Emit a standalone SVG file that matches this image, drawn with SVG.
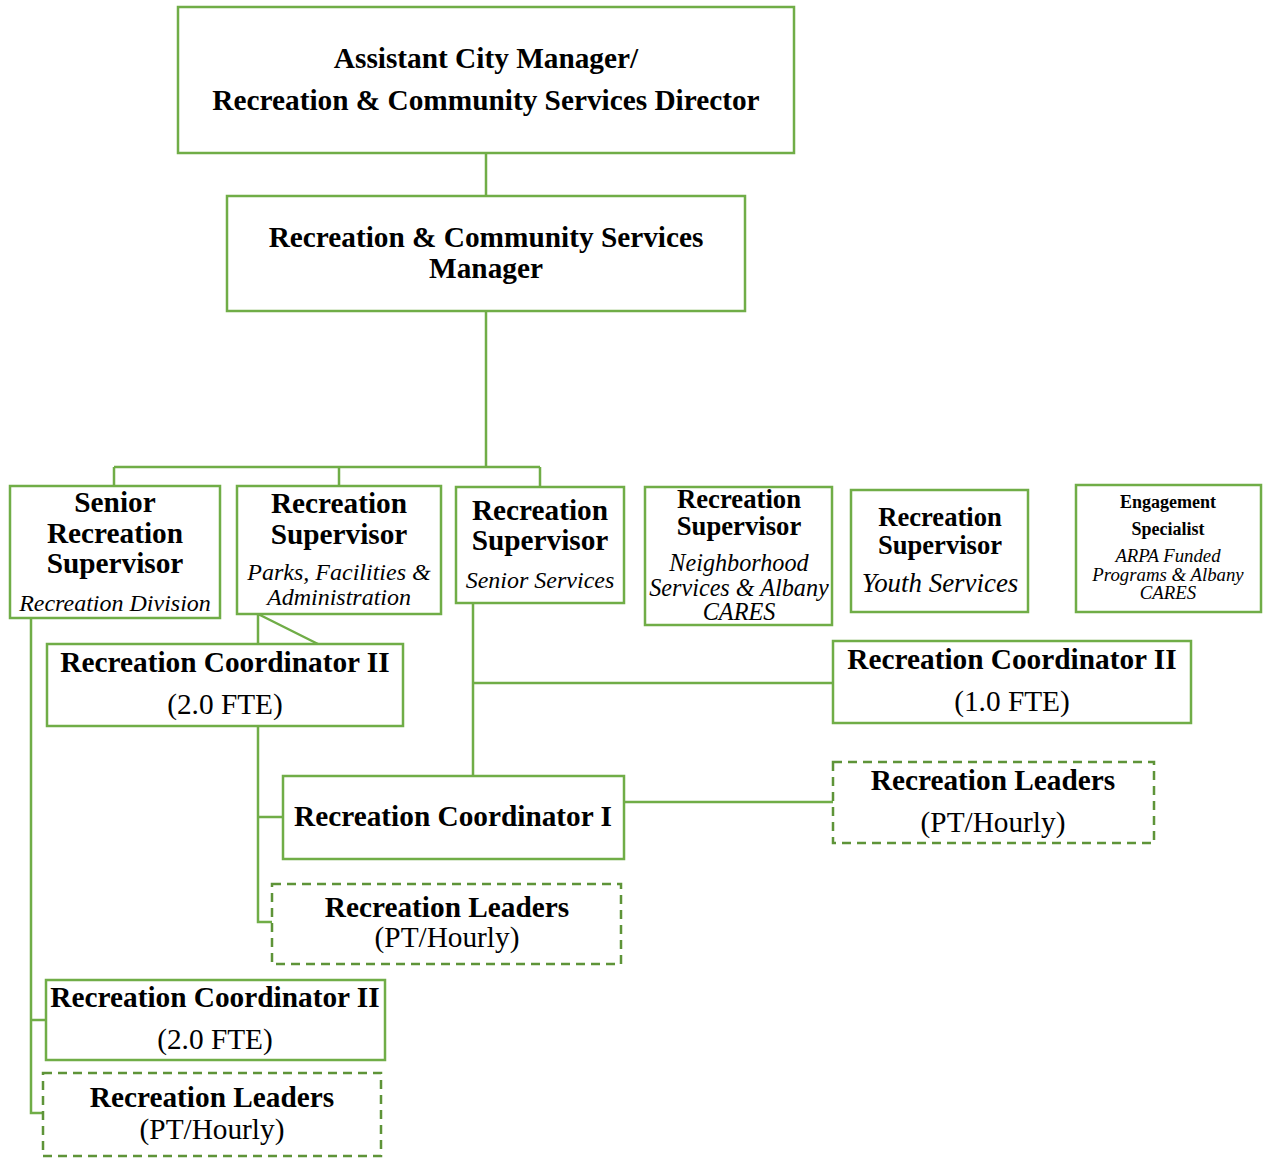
<svg xmlns="http://www.w3.org/2000/svg" width="1268" height="1162" viewBox="0 0 1268 1162">
<style>
.box{fill:#fff;stroke:#70AD47;stroke-width:2.5}
.dash{fill:#fff;stroke:#5E9438;stroke-width:2.5;stroke-dasharray:9 6}
.ln{fill:none;stroke:#70AD47;stroke-width:2.5}
text{font-family:"Liberation Serif","Times New Roman",serif;fill:#000;text-anchor:middle}
.b{font-weight:bold}
.i{font-style:italic}
.L{font-size:29.3px}
.S{font-size:24px}
</style>
<rect width="1268" height="1162" fill="#fff"/>
<g id="connectors">
<path class="ln" d="M486 153V196M486 311V467M114 467H540M114 467V486M339 467V486M540 467V487"/>
<path class="ln" d="M258 614V922H272M258 817H283M258 614L318 644"/>
<path class="ln" d="M473 603V776M473 683H833M624 802H833"/>
<path class="ln" d="M31 618V1113H43M31 1020H46"/>
</g>
<g id="n-director"><rect class="box" x="178" y="7" width="616" height="146"/>
<text class="b L" x="486" y="68">Assistant City Manager/</text>
<text class="b L" x="486" y="110">Recreation &amp; Community Services Director</text></g>
<g id="n-manager"><rect class="box" x="227" y="196" width="518" height="115"/>
<text class="b L" x="486" y="247">Recreation &amp; Community Services</text>
<text class="b L" x="486" y="278">Manager</text></g>
<g id="n-senior-sup"><rect class="box" x="10" y="486" width="210" height="132"/>
<text class="b L" x="115" y="512">Senior</text>
<text class="b L" x="115" y="543">Recreation</text>
<text class="b L" x="115" y="573">Supervisor</text>
<text class="i S" x="115" y="611">Recreation Division</text></g>
<g id="n-parks-sup"><rect class="box" x="237" y="486" width="204" height="128"/>
<text class="b L" x="339" y="513">Recreation</text>
<text class="b L" x="339" y="544">Supervisor</text>
<text class="i S" x="339" y="580">Parks, Facilities &amp;</text>
<text class="i S" x="339" y="605">Administration</text></g>
<g id="n-senior-svc-sup"><rect class="box" x="456" y="487" width="168" height="116"/>
<text class="b L" x="540" y="520">Recreation</text>
<text class="b L" x="540" y="550">Supervisor</text>
<text class="i S" x="540" y="588">Senior Services</text></g>
<g id="n-neighborhood-sup"><rect class="box" x="645" y="487" width="187" height="138"/>
<text class="b" x="739" y="508" font-size="26.7">Recreation</text>
<text class="b" x="739" y="535" font-size="26.7">Supervisor</text>
<text class="i" x="739" y="571" font-size="24.2">Neighborhood</text>
<text class="i" x="739" y="596" font-size="24.2">Services &amp; Albany</text>
<text class="i" x="739" y="620" font-size="24.2">CARES</text></g>
<g id="n-youth-sup"><rect class="box" x="851" y="490" width="177" height="122"/>
<text class="b" x="940" y="526" font-size="26.6">Recreation</text>
<text class="b" x="940" y="554" font-size="26.6">Supervisor</text>
<text class="i" x="940" y="592" font-size="26.9">Youth Services</text></g>
<g id="n-engagement"><rect class="box" x="1076" y="485" width="185" height="127"/>
<text class="b" x="1168" y="508" font-size="18">Engagement</text>
<text class="b" x="1168" y="535" font-size="18">Specialist</text>
<text class="i" x="1168" y="562" font-size="18.8">ARPA Funded</text>
<text class="i" x="1168" y="581" font-size="18.8">Programs &amp; Albany</text>
<text class="i" x="1168" y="599" font-size="18.8">CARES</text></g>
<g id="n-coord2-parks"><rect class="box" x="47" y="644" width="356" height="82"/>
<text class="b L" x="225" y="672">Recreation Coordinator II</text>
<text class="L" x="225" y="714">(2.0 FTE)</text></g>
<g id="n-coord2-senior-svc"><rect class="box" x="833" y="641" width="358" height="82"/>
<text class="b L" x="1012" y="669">Recreation Coordinator II</text>
<text class="L" x="1012" y="711">(1.0 FTE)</text></g>
<g id="n-coord1"><rect class="box" x="283" y="776" width="341" height="83"/>
<text class="b L" x="453" y="826">Recreation Coordinator I</text></g>
<g id="n-leaders-right"><rect class="dash" x="833" y="762" width="321" height="81"/>
<text class="b L" x="993" y="790">Recreation Leaders</text>
<text class="L" x="993" y="832">(PT/Hourly)</text></g>
<g id="n-leaders-mid"><rect class="dash" x="272" y="884" width="349" height="80"/>
<text class="b L" x="447" y="917">Recreation Leaders</text>
<text class="L" x="447" y="947">(PT/Hourly)</text></g>
<g id="n-coord2-bottom"><rect class="box" x="46" y="980" width="339" height="80"/>
<text class="b L" x="215" y="1007">Recreation Coordinator II</text>
<text class="L" x="215" y="1049">(2.0 FTE)</text></g>
<g id="n-leaders-bottom"><rect class="dash" x="43" y="1073" width="338" height="83"/>
<text class="b L" x="212" y="1107">Recreation Leaders</text>
<text class="L" x="212" y="1139">(PT/Hourly)</text></g>
</svg>
